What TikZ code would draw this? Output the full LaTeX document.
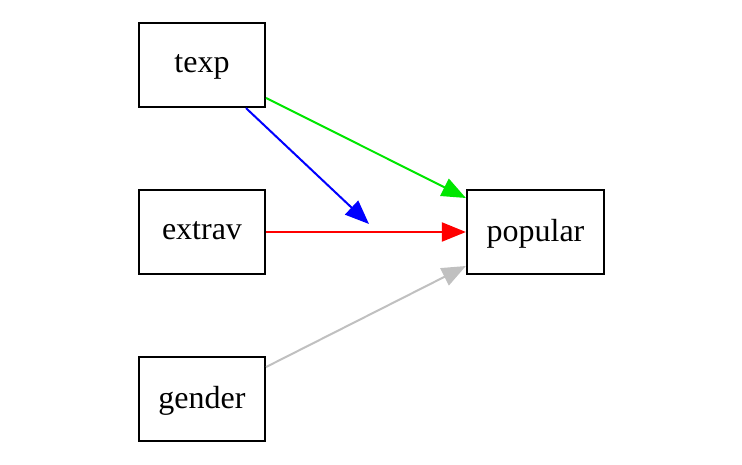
\documentclass[tikz,border=0pt]{standalone}
\usepackage{fontspec}
\setmainfont{Liberation Serif}
\usetikzlibrary{arrows.meta}
\begin{document}
\begin{tikzpicture}[x=1pt,y=1pt,
  box/.style={draw=black,line width=2.2pt,minimum width=126pt,minimum height=84pt,inner sep=0pt,text depth=3pt,font=\fontsize{32pt}{36pt}\selectfont},
  edge/.style={line width=2pt,-{Triangle[length=24pt,width=19pt]}}]
\useasboundingbox (0,0) rectangle (742,464);
\node[box] (texp) at (202,399) {texp};
\node[box] (extrav) at (202,232) {extrav};
\node[box] (gender) at (202,65) {gender};
\node[box,minimum width=137pt] (popular) at (535.5,232) {popular};
\coordinate (mod) at (369,240);
\draw[edge,draw={rgb,255:red,0;green,230;blue,0},fill={rgb,255:red,0;green,255;blue,0}] ([yshift=-33pt]texp.east) -- ([yshift=34pt]popular.west);
\draw[edge,draw=blue,fill=blue] ([xshift=44pt]texp.south) -- (mod);
\draw[edge,draw=red,fill=red] (extrav.east) -- (popular.west);
\draw[edge,draw={rgb,255:red,192;green,192;blue,192},fill={rgb,255:red,192;green,192;blue,192}] ([yshift=32pt]gender.east) -- ([yshift=-34pt]popular.west);
\end{tikzpicture}
\end{document}
